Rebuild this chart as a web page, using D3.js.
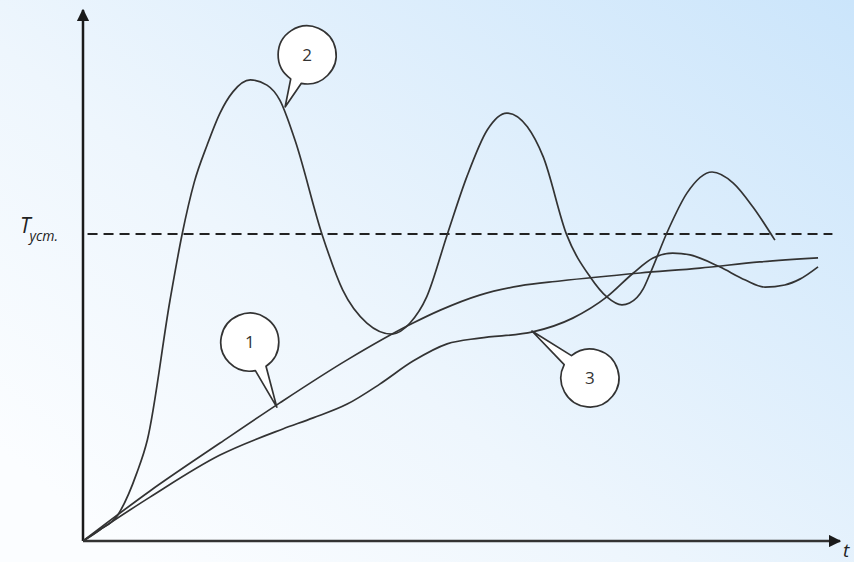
<!DOCTYPE html>
<html>
<head>
<meta charset="utf-8">
<script src="https://cdn.jsdelivr.net/npm/d3@7"></script>
<style>
  html, body { margin: 0; padding: 0; }
  svg { display: block; }
</style>
</head>
<body>
<svg id="chart"></svg>
<script>
// time points and values (T / T_ycm) for each curve
var t1 = [0, 0.885, 1.81, 2.60, 3.49, 4.36, 4.72, 5.24, 5.77, 6.30, 7.36, 8.15, 8.94, 9.71]
var y1 = [0, 0.163, 0.319, 0.450, 0.590, 0.710, 0.752, 0.801, 0.831, 0.847, 0.873, 0.889, 0.909, 0.922]

var t2 = [0, 0.22, 0.46, 0.71, 0.85, 1.15, 1.31, 1.47, 1.64, 1.81, 1.98, 2.21, 2.43, 2.60, 2.80, 3.16, 3.43, 3.75, 4.08, 4.32, 4.54, 4.81, 5.07, 5.34, 5.60, 5.87, 6.08, 6.39, 6.70, 6.92, 7.12, 7.22, 7.40, 7.49, 7.73, 7.98, 8.31, 8.59, 8.85, 9.14]
var y2 = [0, 0.036, 0.085, 0.221, 0.329, 0.785, 1.000, 1.169, 1.290, 1.394, 1.463, 1.502, 1.485, 1.436, 1.306, 0.997, 0.818, 0.710, 0.674, 0.710, 0.795, 0.997, 1.186, 1.339, 1.394, 1.349, 1.251, 0.997, 0.860, 0.795, 0.769, 0.775, 0.821, 0.870, 1.013, 1.134, 1.202, 1.166, 1.088, 0.980]

var t3 = [0, 0.885, 1.81, 2.64, 3.04, 3.49, 3.92, 4.36, 4.81, 5.24, 5.94, 6.47, 6.92, 7.27, 7.53, 7.79, 8.02, 8.41, 8.75, 9.01, 9.27, 9.47, 9.71]
var y3 = [0, 0.143, 0.280, 0.365, 0.401, 0.446, 0.511, 0.586, 0.642, 0.661, 0.681, 0.726, 0.795, 0.873, 0.922, 0.938, 0.932, 0.893, 0.850, 0.827, 0.834, 0.853, 0.893]

var tSteady = 1          // T_ycm level
var tMax = 9.9           // end of the dashed line
var axisEnd = [10, 1.73] // where the arrows point

// callout labels and the point on the curve they point at
var calloutLabels = ["1", "2", "3"]
var calloutAt = [[2.56, 0.436], [2.67, 1.414], [5.93, 0.684]]

var dimensions = {
    width: 854,
    height: 562,
    origin: { x: 83, y: 541 }
}

var svg = d3.select("#chart")
        .attr("width", dimensions.width)
        .attr("height", dimensions.height)

// background gradient
var defs = svg.append("defs")
var grad = defs.append("linearGradient")
        .attr("id", "bg")
        .attr("x1", "0").attr("y1", "0.8")
        .attr("x2", "1").attr("y2", "0")
grad.append("stop").attr("offset", "0").attr("stop-color", "#fbfdff")
grad.append("stop").attr("offset", "0.35").attr("stop-color", "#eef6fd")
grad.append("stop").attr("offset", "1").attr("stop-color", "#cbe5fb")

svg.append("rect")
        .attr("width", dimensions.width)
        .attr("height", dimensions.height)
        .attr("fill", "url(#bg)")

defs.append("marker")
        .attr("id", "arrow")
        .attr("viewBox", "0 0 10 10")
        .attr("refX", 9).attr("refY", 5)
        .attr("markerWidth", 5).attr("markerHeight", 5)
        .attr("orient", "auto")
        .append("path")
        .attr("d", "M0,0 L10,5 L0,10 z")
        .attr("fill", "#1a1a1a")

//x and y scales
var xScale = d3.scaleLinear()
        .domain([0, 10])
        .range([dimensions.origin.x, 840])

var yScale = d3.scaleLinear()
        .domain([0, 1])
        .range([dimensions.origin.y, 234])

// axes
svg.append("line")
        .attr("x1", xScale(0)).attr("y1", yScale(0))
        .attr("x2", xScale(0)).attr("y2", yScale(axisEnd[1]))
        .attr("stroke", "#1a1a1a")
        .attr("stroke-width", 2.5)
        .attr("marker-end", "url(#arrow)")

svg.append("line")
        .attr("x1", xScale(0)).attr("y1", yScale(0))
        .attr("x2", xScale(axisEnd[0])).attr("y2", yScale(0))
        .attr("stroke", "#333")
        .attr("stroke-width", 2.5)
        .attr("marker-end", "url(#arrow)")

svg.append("text")
        .attr("x", xScale(axisEnd[0]) + 3)
        .attr("y", yScale(0) + 16)
        .attr("font-family", "Open Sans, sans-serif")
        .attr("font-style", "italic")
        .attr("font-size", 19)
        .attr("fill", "#222")
        .text("t")

// steady value line
svg.append("line")
        .attr("x1", xScale(0.06)).attr("y1", yScale(tSteady))
        .attr("x2", xScale(tMax)).attr("y2", yScale(tSteady))
        .attr("stroke", "#222")
        .attr("stroke-width", 2)
        .attr("stroke-dasharray", "10,6")

var tLabel = svg.append("text")
        .attr("x", 20)
        .attr("y", yScale(tSteady) - 1)
        .attr("font-family", "Open Sans, sans-serif")
        .attr("font-style", "italic")
        .attr("fill", "#222")
tLabel.append("tspan").attr("font-size", 21).text("T")
tLabel.append("tspan").attr("font-size", 14).attr("dy", 8).attr("dx", -1).text("ycm.")

//lines
var line = d3.line()
        .x(function(d) { return xScale(d[0]) })
        .y(function(d) { return yScale(d[1]) })
        .curve(d3.curveMonotoneX)

var curves = [d3.zip(t1, y1), d3.zip(t2, y2), d3.zip(t3, y3)]

svg.selectAll(".curve")
        .data(curves)
        .enter()
        .append("path")
        .attr("class", "curve")
        .attr("fill", "none")
        .attr("stroke", "#333")
        .attr("stroke-width", 1.7)
        .attr("d", line)

// callout bubbles, offsets in px from the pointed point
var calloutOffset = [[-27, -65], [22, -52], [58, 47]]
var r = 29

calloutLabels.forEach(function(label, i) {
        var px = xScale(calloutAt[i][0])
        var py = yScale(calloutAt[i][1])
        var cx = px + calloutOffset[i][0]
        var cy = py + calloutOffset[i][1]
        var ang = Math.atan2(py - cy, px - cx)
        var spread = 0.2
        var a1 = ang - spread, a2 = ang + spread
        var p1 = [cx + r * Math.cos(a1), cy + r * Math.sin(a1)]
        var p2 = [cx + r * Math.cos(a2), cy + r * Math.sin(a2)]
        // circle with a tail, drawn as one path
        var d = "M" + p2[0] + "," + p2[1] +
                " A" + r + "," + r + " 0 1,1 " + p1[0] + "," + p1[1] +
                " L" + px + "," + py + " Z"
        svg.append("path")
                .attr("d", d)
                .attr("fill", "#fff")
                .attr("stroke", "#333")
                .attr("stroke-width", 1.7)
                .attr("stroke-linejoin", "round")
        svg.append("text")
                .attr("x", cx)
                .attr("y", cy + 6)
                .attr("text-anchor", "middle")
                .attr("font-family", "Open Sans, sans-serif")
                .attr("font-size", 17)
                .attr("fill", "#333")
                .text(label)
})
</script>
</body>
</html>
